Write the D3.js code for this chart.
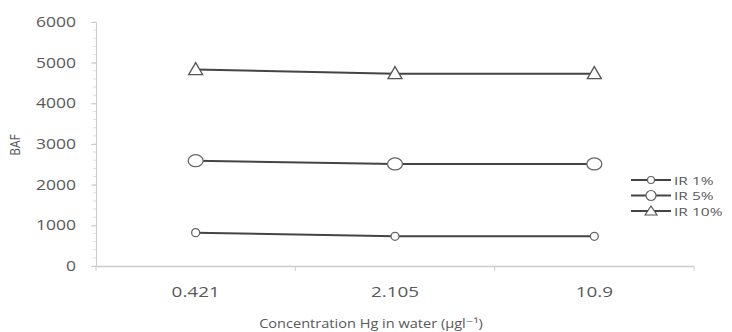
<!DOCTYPE html>
<html><head><meta charset="utf-8">
<script src="https://cdn.jsdelivr.net/npm/d3@7"></script>
<style>body{margin:0;background:#fff}text{font-family:"Open Sans","DejaVu Sans",sans-serif;fill:#595959}</style>
</head><body><svg id="c" width="732" height="332"></svg>
<script>
const categories = ["0.421", "2.105", "10.9"];
const seriesNames = ["IR 1%", "IR 5%", "IR 10%"];
const ir1 = [820, 730, 730];
const ir5 = [2590, 2510, 2510];
const ir10 = [4830, 4730, 4730];
const yTicks = [0, 1000, 2000, 3000, 4000, 5000, 6000];
const xTitle = "Concentration Hg in water (µgl\u207B\u00B9)";
const yTitle = "BAF";

const series = [
  {name: seriesNames[0], values: ir1, marker: "smallCircle"},
  {name: seriesNames[1], values: ir5, marker: "bigCircle"},
  {name: seriesNames[2], values: ir10, marker: "triangle"}
];

const svg = d3.select("#c");
const L = 96, R = 694, T = 22, B = 266;
const SX = 1.3; // horizontal stretch of the reference's text
const x = d3.scaleBand().domain(categories).range([L, R]);
const y = d3.scaleLinear().domain([0, 6000]).range([B, T]);

function stext(px, py, str, size, anchor, sx) {
  return svg.append("text")
    .attr("transform", `translate(${px},${py}) scale(${sx || SX},1)`)
    .attr("text-anchor", anchor).attr("font-size", size).text(str);
}

// minor ticks on y axis
const minor = d3.range(0, 6001, 200);
svg.append("g").selectAll("line").data(minor).join("line")
  .attr("x1", L - 3).attr("x2", L).attr("y1", d => y(d)).attr("y2", d => y(d))
  .attr("stroke", "#ddd");

const yAxis = svg.append("g").attr("transform", `translate(${L},0)`)
  .call(d3.axisLeft(y).tickValues(yTicks).tickSize(5).tickFormat(""));
yAxis.select(".domain").attr("stroke", "#ccc");
yAxis.selectAll(".tick line").attr("stroke", "#ccc");
yTicks.forEach(t => stext(76, y(t) + 5, d3.format("d")(t), 14, "end", 1.25));

const xAxis = svg.append("g").attr("transform", `translate(0,${B})`)
  .call(d3.axisBottom(x).tickSize(0).tickFormat(""));
xAxis.select(".domain").attr("stroke", "#ccc").attr("stroke-width", 1.5);
const bounds = categories.map(c => x(c)).concat([R]);
svg.append("g").selectAll("line").data(bounds).join("line")
  .attr("x1", d => d).attr("x2", d => d).attr("y1", B).attr("y2", B + 5)
  .attr("stroke", "#ccc");

const cx = c => x(c) + x.bandwidth() / 2;
categories.forEach(c => stext(cx(c), 297, c, 14, "middle", 1.35));

stext(371, 328, xTitle, 13, "middle", 1.12);
svg.append("text").attr("transform", "translate(20,145) rotate(-90) scale(1,1.2)")
  .attr("text-anchor", "middle").attr("font-size", 12).text(yTitle);

const line = d3.line().x((d, i) => cx(categories[i])).y(d => y(d));

function drawMarker(g, type, px, py) {
  if (type === "smallCircle") {
    g.append("circle").attr("cx", px).attr("cy", py).attr("r", 4)
      .attr("fill", "#fff").attr("stroke", "#666").attr("stroke-width", 1.3);
  } else if (type === "bigCircle") {
    g.append("ellipse").attr("cx", px).attr("cy", py).attr("rx", 7.5).attr("ry", 6)
      .attr("fill", "#fff").attr("stroke", "#666").attr("stroke-width", 1.3);
  } else {
    g.append("path").attr("d", `M${px - 7},${py + 5}L${px},${py - 7}L${px + 7},${py + 5}Z`)
      .attr("fill", "#fff").attr("stroke", "#555").attr("stroke-width", 1.3);
  }
}

series.forEach(s => {
  const g = svg.append("g");
  g.append("path").datum(s.values).attr("d", line)
    .attr("fill", "none").attr("stroke", "#444").attr("stroke-width", 2);
  s.values.forEach((v, i) => drawMarker(g, s.marker, cx(categories[i]), y(v)));
});

// legend
const lg = svg.append("g");
series.forEach((s, i) => {
  const ly = 180 + i * 15.5;
  lg.append("line").attr("x1", 631).attr("x2", 671).attr("y1", ly).attr("y2", ly)
    .attr("stroke", "#444").attr("stroke-width", 2);
  if (s.marker === "triangle") {
    lg.append("path").attr("d", `M645,${ly + 4}L651,${ly - 5}L657,${ly + 4}Z`)
      .attr("fill", "#fff").attr("stroke", "#555").attr("stroke-width", 1.2);
  } else {
    lg.append("circle").attr("cx", 651).attr("cy", ly).attr("r", s.marker === "bigCircle" ? 5 : 3.5)
      .attr("fill", "#fff").attr("stroke", "#666").attr("stroke-width", 1.2);
  }
  stext(674, ly + 4.5, s.name, 11.5, "start", 1.35);
});
</script></body></html>
